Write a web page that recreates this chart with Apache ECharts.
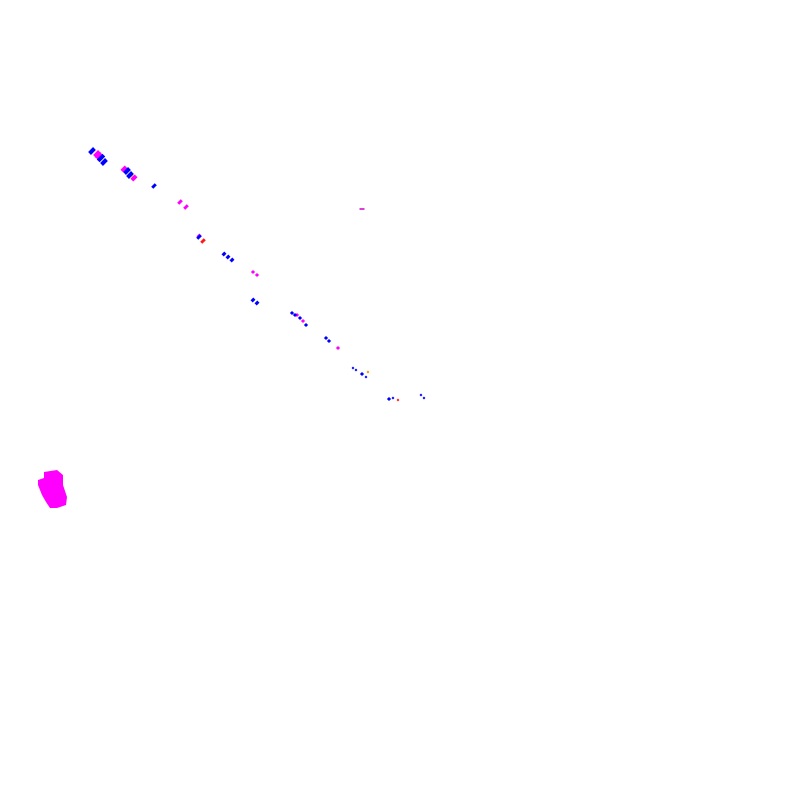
<!DOCTYPE html>
<html><head><meta charset="utf-8">
<script src="https://cdn.jsdelivr.net/npm/echarts@6/dist/echarts.min.js"></script>
<style>html,body{margin:0;padding:0;background:#fff}#c{width:800px;height:800px}</style>
</head><body><div id="c"></div>
<script>
// Point values (x, y), per colour group, with mark length
const blueX = [92, 101, 104, 127, 130, 154, 199, 224, 228, 232, 253, 257, 292, 295, 300, 306, 326, 329, 353, 356, 362, 366, 389, 393, 421, 424];
const blueY = [151, 158, 162, 171, 175, 186, 237, 254, 257, 260, 300, 303, 313, 315, 318, 325, 338, 341, 368, 370, 374, 377, 399, 398, 395, 398];
const blueL = [7, 8, 7, 7, 7, 5, 5, 4, 4, 4, 4, 4, 3, 2, 3, 3, 3, 2, 1, 1, 2, 1, 2, 1, 1, 1];
const magX = [97, 99, 124, 134, 180, 186, 199, 253, 257, 297, 303, 338];
const magY = [154, 156, 169, 178, 202, 207, 236, 272, 275, 315, 321, 348];
const magL = [7, 7, 6, 6, 5, 5, 4, 3, 3, 3, 3, 2];
const redX = [203, 398];
const redY = [241, 400];
const redL = [5, 1];
const orangeX = [368];
const orangeY = [372];
const orangeL = [1];
const yellowX = [100, 132];
const yellowY = [158, 176];
const yellowL = [3, 3];
const dashX = [362];
const dashY = [209];
const blobX = [52.5];
const blobY = [489];

function pts(xs, ys, ls) { return xs.map((x, i) => [x, ys[i], ls[i]]); }
function ser(name, color, xs, ys, ls, z) {
  return {
    name, type: 'scatter', z,
    data: pts(xs, ys, ls),
    symbol: 'rect',
    symbolSize: d => d[2] >= 6 ? [4, d[2]] : d[2] >= 3 ? [3, d[2]] : [d[2] + 1, d[2] + 1],
    symbolRotate: -45,
    itemStyle: { color, opacity: 1 },
    silent: true
  };
}
const chart = echarts.init(document.getElementById('c'));
chart.setOption({
  animation: false,
  grid: { left: 0, right: 0, top: 0, bottom: 0 },
  xAxis: { type: 'value', min: 0, max: 800, show: false },
  yAxis: { type: 'value', min: 0, max: 800, inverse: true, show: false },
  series: [
    ser('yellow', '#ffd700', yellowX, yellowY, yellowL, 1),
    ser('magenta', '#ff00ff', magX, magY, magL, 2),
    ser('blue', '#0000ff', blueX, blueY, blueL, 3),
    ser('red', '#ff1a1a', redX, redY, redL, 4),
    ser('orange', '#ff8c00', orangeX, orangeY, orangeL, 4),
    {
      name: 'dash', type: 'scatter', z: 4,
      data: dashX.map((x, i) => [x, dashY[i]]),
      symbol: 'rect', symbolSize: [5, 1.5],
      itemStyle: { color: '#cc00cc', opacity: 1 }, silent: true
    },
    {
      name: 'blob', type: 'scatter', z: 5,
      data: blobX.map((x, i) => [x, blobY[i]]),
      symbol: 'path://M44 472 L57 470 L63 475 L63 485 L67 497 L66 505 L57 508 L50 508 L46 502 L42 495 L38 485 L38 480 L44 478 Z',
      symbolSize: [29, 38],
      itemStyle: { color: '#ff00ff', opacity: 1 }, silent: true
    }
  ]
});
</script></body></html>
